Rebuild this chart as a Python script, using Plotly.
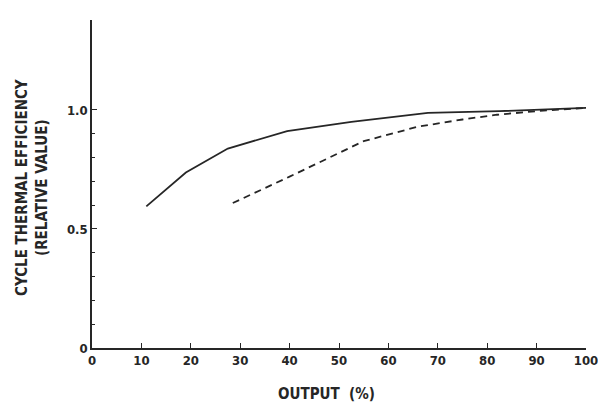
import plotly.graph_objects as go

solid_x = [11, 19, 27.5, 39.5, 52.5, 68, 82.5, 100]
solid_y = [0.595, 0.737, 0.838, 0.911, 0.950, 0.988, 0.995, 1.009]

dash_x = [28.5, 40, 55, 66, 75, 82, 90, 100]
dash_y = [0.609, 0.72, 0.869, 0.93, 0.96, 0.98, 0.995, 1.009]

x_ticks = [0, 10, 20, 30, 40, 50, 60, 70, 80, 90, 100]
y_ticks = [0, 0.5, 1.0]
y_tick_labels = ["0", "0.5", "1.0"]
y_minor = [0.1, 0.2, 0.3, 0.4, 0.6, 0.7, 0.8, 0.9]

font = "Liberation Sans Narrow, DejaVu Sans Condensed, sans-serif"
ink = "#262626"

fig = go.Figure()
fig.add_trace(go.Scatter(x=solid_x, y=solid_y, mode="lines",
                         line=dict(color=ink, width=1.8), cliponaxis=False))
fig.add_trace(go.Scatter(x=dash_x, y=dash_y, mode="lines",
                         line=dict(color=ink, width=1.8, dash="7px,5px"), cliponaxis=False))

# page body has an 8px default margin, so the figure is sized to compensate
fig.update_layout(
    width=598, height=397,
    margin=dict(l=84, r=20, t=12, b=57, autoexpand=False),
    paper_bgcolor="white", plot_bgcolor="white",
    showlegend=False,
    font=dict(family=font, size=14, color=ink),
    xaxis=dict(range=[0, 100], tickvals=x_ticks, ticks="inside", ticklen=5,
               tickcolor=ink, tickwidth=1.3, showline=True, linecolor=ink, linewidth=1.5,
               showgrid=False, zeroline=False, automargin=False,
               tickfont=dict(family=font, size=13, weight="bold")),
    yaxis=dict(range=[0, 1.378], tickvals=y_ticks, ticktext=y_tick_labels,
               ticks="inside", ticklen=5, tickcolor=ink, tickwidth=1.3,
               minor=dict(tickmode="array", tickvals=y_minor, ticks="inside",
                          ticklen=3, tickcolor=ink),
               showline=True, linecolor=ink, linewidth=1.5,
               showgrid=False, zeroline=False, automargin=False,
               tickfont=dict(family=font, size=13, weight="bold")),
    annotations=[
        dict(text="CYCLE THERMAL EFFICIENCY<br>(RELATIVE VALUE)", textangle=-90,
             xref="paper", yref="paper", x=-0.12, y=0.49, xanchor="center",
             yanchor="middle", showarrow=False,
             font=dict(family=font, size=15, weight="bold", color=ink)),
        dict(text="OUTPUT  (%)", xref="paper", yref="paper", x=0.475, y=-0.14,
             xanchor="center", yanchor="middle", showarrow=False,
             font=dict(family=font, size=15, weight="bold", color=ink)),
    ],
)

fig.write_html("out.html")
